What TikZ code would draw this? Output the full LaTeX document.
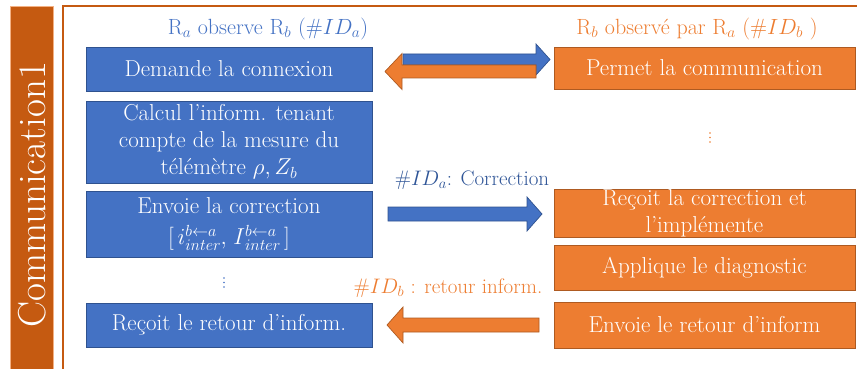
\RequirePackage{fix-cm}
\documentclass[tikz,border=0pt]{standalone}
\usepackage{fontspec}
\definecolor{cblue}{HTML}{4472C4}
\definecolor{cblueb}{HTML}{2F528F}
\definecolor{corange}{HTML}{ED7D31}
\definecolor{coranb}{HTML}{AE5A21}
\definecolor{cbar}{HTML}{C55A11}
\definecolor{cbarb}{HTML}{F4B183}
\definecolor{ctxtblue}{HTML}{2F5597}
\newcommand{\supsub}[3]{#1\rlap{\raisebox{8pt}{$\scriptstyle #2$}}\raisebox{-6pt}{$\scriptstyle #3$}}
\tikzset{
  boxbase/.style={rectangle, text=white, line width=0.8pt, align=center, inner sep=0pt,
    font=\fontsize{23}{27}\selectfont},
  bbox/.style={boxbase, fill=cblue, draw=cblueb, minimum width=286},
  obox/.style={boxbase, fill=corange, draw=coranb, minimum width=301},
  barrow/.style={fill=cblue, draw=cblueb, line width=0.7pt, line join=miter},
  oarrow/.style={fill=corange, draw=coranb, line width=0.7pt, line join=miter},
  ttl/.style={font=\fontsize{22}{24}\selectfont, inner sep=0pt},
  lbl/.style={font=\fontsize{21}{24}\selectfont, inner sep=0pt}
}
\begin{document}
\begin{tikzpicture}[x=1pt,y=-1pt]
\useasboundingbox (0,0) rectangle (857,369);
% left bar and frame
\draw[fill=cbar, draw=cbarb, line width=0.6pt] (10,6) rectangle (53,372);
\node[rotate=90, text=white, font=\fontsize{39}{42}\selectfont, inner sep=0pt] (bar) at (32,195) {Communication1};
\draw[draw=cbar, line width=1.2pt] (63,370) -- (63,6) -- (858,6);
% titles
\node[ttl, text=cblue] (ta) at (268,29) {R$_a$ observe R$_b$ ($\#ID_a$)};
\node[ttl, text=corange] (tb) at (697,29) {R$_b$ observé par R$_a$ ($\#ID_b$ )};
% blue boxes
\node[bbox, minimum height=44] (d1) at (229,69) {Demande la connexion};
\node[bbox, minimum height=82] (d2) at (229,142) {Calcul l’inform. tenant\\compte de la mesure du\\télémètre $\rho, Z_b$};
\node[bbox, minimum height=66] (d3) at (229,224) {Envoie la correction\\[4pt]{[}\,\supsub{$i$}{b\leftarrow a}{inter}$,\;$\supsub{$I$}{b\leftarrow a}{inter}\,{]}};
\node[bbox, minimum height=44] (d4) at (229,325) {Reçoit le retour d’inform.};
% orange boxes
\node[obox, minimum height=42] (o1) at (704.5,68) {Permet la communication};
\node[obox, minimum height=45] (o2) at (704.5,213.5) {Reçoit la correction et\\l’implémente};
\node[obox, minimum height=45] (o3) at (704.5,267.5) {Applique le diagnostic};
\node[obox, minimum height=46] (o4) at (704.5,325) {Envoie le retour d’inform};
% vertical dots
\foreach \yy in {133,137.5,142} \fill[corange] (710,\yy) circle (0.9);
\foreach \yy in {278,282.5,287} \fill[cblue] (224,\yy) circle (0.9);
% top double arrow
\draw[barrow] (403,54) -- (536,54) -- (536,44) -- (550,59.5) -- (536,75) -- (536,65) -- (403,65) -- cycle;
\draw[oarrow] (536,65) -- (402,65) -- (402,53.5) -- (385,71.5) -- (402,89.5) -- (402,78) -- (536,78) -- cycle;
% middle arrow
\node[lbl, text=ctxtblue] (lc) at (472,180) {$\#ID_a$: Correction};
\draw[barrow] (388,207) -- (527,207) -- (527,197) -- (542,214) -- (527,231) -- (527,221) -- (388,221) -- cycle;
% bottom arrow
\node[lbl, text=corange] (lr) at (448,288) {$\#ID_b$ : retour inform.};
\draw[oarrow] (539,318) -- (403,318) -- (403,307) -- (387,325) -- (403,343) -- (403,332) -- (539,332) -- cycle;
\end{tikzpicture}
\end{document}
